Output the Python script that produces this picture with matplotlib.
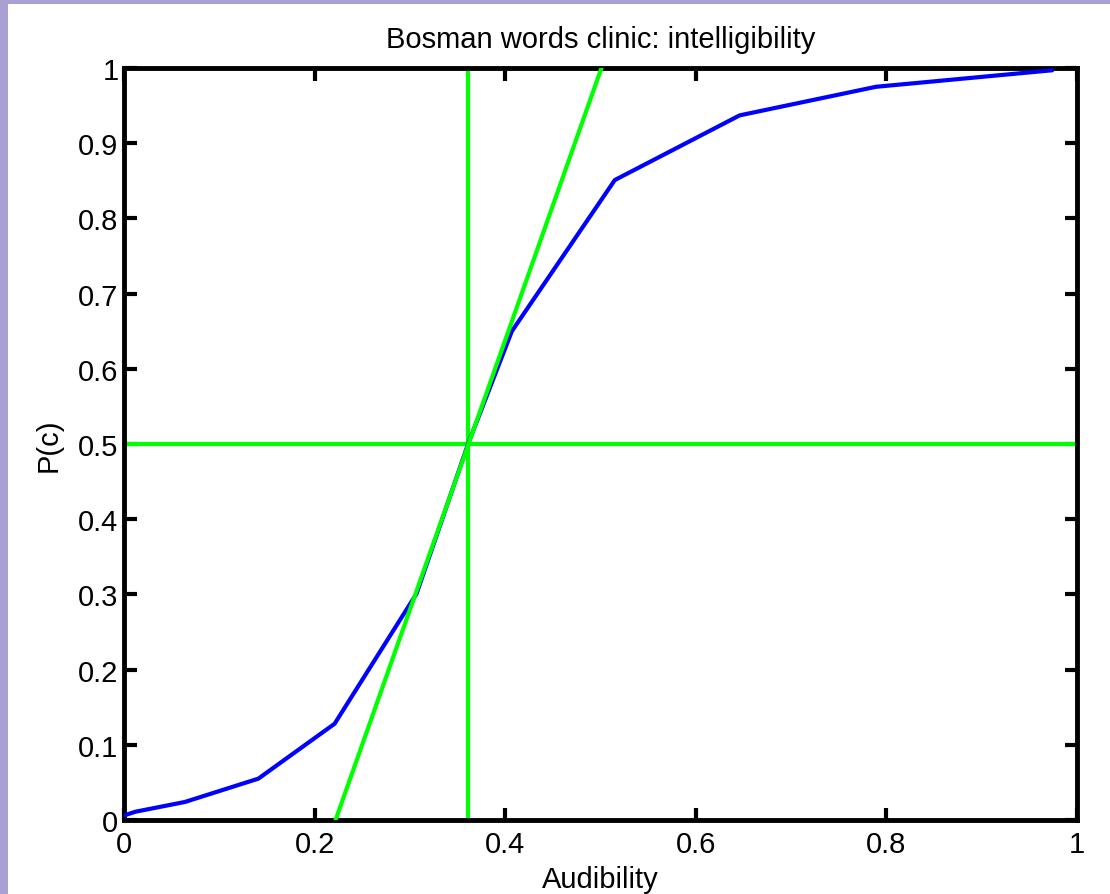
import matplotlib
matplotlib.use('Agg')
import matplotlib.pyplot as plt
from matplotlib.patches import Rectangle

# audibility vs. probability correct
audibility = [0.0, 0.012, 0.064, 0.141, 0.221, 0.307, 0.361, 0.407, 0.515, 0.646, 0.789, 0.974]
p_correct = [0.006, 0.011, 0.024, 0.055, 0.128, 0.301, 0.5, 0.650, 0.851, 0.937, 0.975, 0.997]

# 50% point and tangent line
a50 = 0.361
p50 = 0.5
tangent_x = [0.222, 0.501]
tangent_y = [0.0, 1.0]

xticks = [0, 0.2, 0.4, 0.6, 0.8, 1]
xticklabels = ['0', '0.2', '0.4', '0.6', '0.8', '1']
yticks = [0, 0.1, 0.2, 0.3, 0.4, 0.5, 0.6, 0.7, 0.8, 0.9, 1]
yticklabels = ['0', '0.1', '0.2', '0.3', '0.4', '0.5', '0.6', '0.7', '0.8', '0.9', '1']

plt.rcParams['font.family'] = ['Liberation Sans', 'DejaVu Sans']

W, H = 1110, 895
fig = plt.figure(figsize=(W / 100, H / 100), dpi=100, facecolor='white')
# lavender frame, only top and left edges visible
lav = '#aba0d3'
fig.patches.append(Rectangle((0, 0), 8 / W, 1, transform=fig.transFigure,
                             facecolor=lav, edgecolor='none', zorder=-10))
fig.patches.append(Rectangle((0, 1 - 5 / H), 1, 5 / H, transform=fig.transFigure,
                             facecolor=lav, edgecolor='none', zorder=-10))

ax = fig.add_axes([124 / W, 1 - 821 / H, (1077 - 124) / W, (821 - 69) / H])
ax.set_facecolor('white')

ax.plot(audibility, p_correct, color='#0000ff', lw=3, solid_capstyle='round', zorder=3)
ax.axvline(a50, color='#00ff00', lw=3, zorder=2)
ax.axhline(p50, color='#00ff00', lw=3, zorder=2)
ax.plot(tangent_x, tangent_y, color='#00ff00', lw=3, zorder=4)

ax.set_xlim(0, 1)
ax.set_ylim(0, 1)
ax.set_xticks(xticks)
ax.set_xticklabels(xticklabels)
ax.set_yticks(yticks)
ax.set_yticklabels(yticklabels)
ax.tick_params(direction='in', length=9, width=3, labelsize=21, top=True, right=True)
ax.tick_params(axis='x', pad=7)
ax.tick_params(axis='y', pad=4)
for s in ax.spines.values():
    s.set_linewidth(3.5)

ax.set_title('Bosman words clinic: intelligibility', fontsize=21, pad=15)
ax.set_xlabel('Audibility', fontsize=21, labelpad=5)
ax.set_ylabel('P(c)', fontsize=21, labelpad=11)

fig.savefig('out.png', dpi=100)
